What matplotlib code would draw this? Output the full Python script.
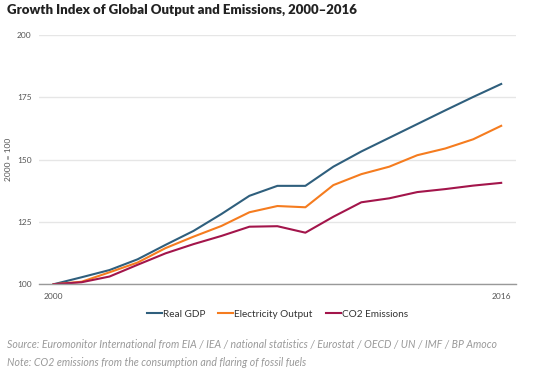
import matplotlib
matplotlib.use("Agg")
import matplotlib.pyplot as plt

years = list(range(2000, 2017))
real_gdp = [100, 102.8, 105.7, 110.0, 115.8, 121.4, 128.2, 135.5, 139.5, 139.5,
            147.2, 153.3, 158.8, 164.3, 169.8, 175.2, 180.4]
electricity = [100, 101.0, 104.8, 108.7, 114.5, 119.1, 123.4, 128.9, 131.4, 130.9,
               139.8, 144.2, 147.2, 151.8, 154.5, 158.2, 163.6]
co2 = [100, 100.8, 103.1, 107.8, 112.4, 116.1, 119.4, 123.1, 123.3, 120.7,
       127.1, 132.9, 134.5, 137.0, 138.2, 139.6, 140.7]
series_names = ["Real GDP", "Electricity Output", "CO2 Emissions"]
colors = ["#2f5f7d", "#f57c1f", "#a3154b"]
yticks = [100, 125, 150, 175, 200]
xtick_years = [2000, 2016]

title = "Growth Index of Global Output and Emissions, 2000\u20132016"
source = "Source: Euromonitor International from EIA / IEA / national statistics / Eurostat / OECD / UN / IMF / BP Amoco"
note = "Note: CO2 emissions from the consumption and flaring of fossil fuels"

plt.rcParams['font.family'] = ['Lato', 'DejaVu Sans']

fig = plt.figure(figsize=(5.35, 3.74), dpi=100)
ax = fig.add_axes([0.073, 0.240, 0.891, 0.666])

for vals, name, c in zip([real_gdp, electricity, co2], series_names, colors):
    ax.plot(years, vals, color=c, lw=1.5, label=name, solid_joinstyle='round')

ax.set_xlim(2000 - 0.52, 2016 + 0.52)
ax.set_ylim(100, 200)
ax.set_yticks(yticks)
ax.set_xticks(xtick_years)
ax.grid(axis='y', color='#e6e6e6', lw=1)
ax.set_axisbelow(True)
for s in ['top', 'right', 'left']:
    ax.spines[s].set_visible(False)
ax.spines['bottom'].set_color('#999999')
ax.spines['bottom'].set_linewidth(1)
ax.tick_params(axis='both', length=0, labelsize=6, labelcolor='#555555')
ax.tick_params(axis='y', pad=5.5)
ax.tick_params(axis='x', pad=6)
ax.set_ylabel("2000 = 100", fontsize=6, color='#555555')
ax.yaxis.set_label_coords(-0.056, 0.5)

leg = ax.legend(loc='center', bbox_to_anchor=(0.5, -0.12), ncol=3, frameon=False,
                fontsize=7.2, handlelength=1.5, handletextpad=0.1, columnspacing=1.3)
for t in leg.get_texts():
    t.set_color('#333333')

fig.text(0.013, 0.964, title, fontsize=9.5, fontweight='heavy', color='#222222', va='baseline')
fig.text(0.013, 0.078, source, fontsize=7.6, style='italic', color='#999999', va='center')
fig.text(0.013, 0.032, note, fontsize=7.6, style='italic', color='#999999', va='center')

fig.savefig("out.png", dpi=100)
